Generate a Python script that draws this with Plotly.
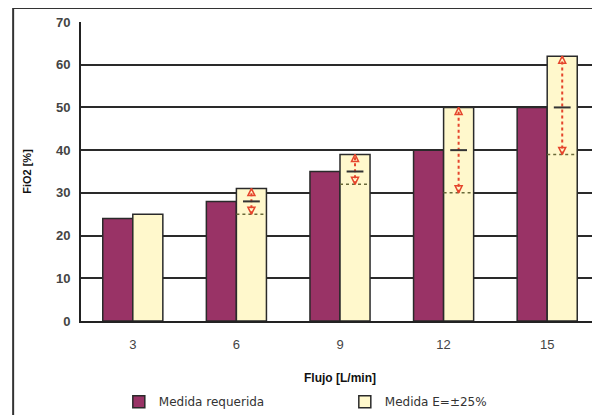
import plotly.graph_objects as go

# Flujo de O2 vs FiO2 requerida / medida
flujo = [3, 6, 9, 12, 15]
medida_requerida = [24, 28, 35, 40, 50]
medida_e25 = [25, 31, 39, 50, 62]
rango_inferior = [None, 25, 32, 30, 39]

idx = list(range(len(flujo)))
w = 0.29  # bar width in category units

fig = go.Figure()

fig.add_bar(x=idx, y=medida_requerida, width=w, offset=-w,
            name='Medida requerida',
            marker=dict(color='#993366', line=dict(color='#2a2a2a', width=1.5)))
fig.add_bar(x=idx, y=medida_e25, width=w, offset=0,
            name='Medida E=±25%',
            marker=dict(color='#FFF8CC', line=dict(color='#2a2a2a', width=1.5)))

# red dotted range lines, lower dotted bound, arrowheads
rx, ry, lx, ly, ux, uy, dx, dy = [], [], [], [], [], [], [], []
for i, lo, hi in zip(idx, rango_inferior, medida_e25):
    if lo is None:
        continue
    c = i + w / 2
    rx += [c, c, None]
    ry += [lo, hi, None]
    lx += [i, i + w, None]
    ly += [lo, lo, None]
    ux.append(c); uy.append(hi)
    dx.append(c); dy.append(lo)

fig.add_scatter(x=lx, y=ly, mode='lines', showlegend=False, hoverinfo='skip',
                line=dict(color='#6b6b3a', dash='dot', width=1.5))
fig.add_scatter(x=rx, y=ry, mode='lines', showlegend=False, hoverinfo='skip',
                line=dict(color='#E5452C', dash='dot', width=2))
fig.add_scatter(x=ux, y=uy, mode='markers', showlegend=False, hoverinfo='skip',
                marker=dict(symbol='arrow-up-open', size=7, color='#E5452C',
                            line=dict(color='#E5452C', width=1.5)))
fig.add_scatter(x=dx, y=dy, mode='markers', showlegend=False, hoverinfo='skip',
                marker=dict(symbol='arrow-down-open', size=7, color='#E5452C',
                            line=dict(color='#E5452C', width=1.5)))

# mean tick at the required value
mx = [i + w / 2 for i, lo in zip(idx, rango_inferior) if lo is not None]
my = [r for r, lo in zip(medida_requerida, rango_inferior) if lo is not None]
fig.add_scatter(x=mx, y=my, mode='markers', showlegend=False, hoverinfo='skip',
                marker=dict(symbol='line-ew', size=12,
                            line=dict(color='#333333', width=2)))

# page body adds an 8px offset, margins compensate for it
fig.update_layout(
    width=600, height=415,
    margin=dict(l=73, r=9, t=14, b=102, autoexpand=False),
    paper_bgcolor='white', plot_bgcolor='white',
    font=dict(family='Liberation Sans, Arial, sans-serif', color='#444444'),
    bargap=0.42,
    legend=dict(orientation='h', x=0.073, y=-0.27, xanchor='left', yanchor='middle',
                font=dict(family='DejaVu Sans, sans-serif', size=12, color='#333333'),
                entrywidth=181, itemwidth=30, traceorder='normal'),
    shapes=[dict(type='rect', xref='paper', yref='paper',
                 x0=-0.131, x1=1.2, y0=-0.5, y1=1.047,
                 line=dict(color='#333333', width=2), layer='below')],
)

fig.update_xaxes(
    range=[-0.5, len(flujo) - 0.5], automargin=False,
    tickvals=idx, ticktext=[str(f) for f in flujo],
    showgrid=False, zeroline=False,
    showline=True, linecolor='#222222', linewidth=2,
    ticks='', ticklabelstandoff=10,
    tickfont=dict(size=13, color='#444444'),
    title=dict(text='Flujo [L/min]', standoff=23,
               font=dict(size=12, color='#111111', weight='bold')),
)
fig.update_yaxes(
    range=[0, 70], dtick=10, automargin=False,
    showgrid=True, gridcolor='#2a2a2a', gridwidth=1.5,
    zeroline=False, showline=True, linecolor='#222222', linewidth=2,
    ticks='', ticklabelstandoff=6,
    tickfont=dict(size=13, color='#444444', weight='bold'),
    title=dict(text='FiO2 [%]', standoff=22,
               font=dict(size=11, color='#111111', weight='bold')),
)

fig.write_html("out.html")
